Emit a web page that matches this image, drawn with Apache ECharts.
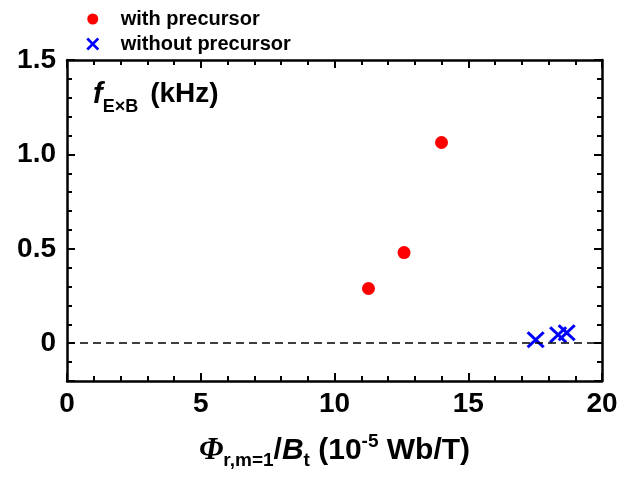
<!DOCTYPE html>
<html>
<head>
<meta charset="utf-8">
<script src="https://cdn.jsdelivr.net/npm/echarts@6/dist/echarts.min.js"></script>
<style>
  html, body { margin: 0; padding: 0; background: #fff; }
  #chart { width: 629px; height: 477px; }
</style>
</head>
<body>
<div id="chart"></div>
<script>
// Shots with a precursor
const withName = 'with precursor';
const withX = [11.27, 12.6, 14.0];
const withY = [0.29, 0.48, 1.063];

// Shots without a precursor
const withoutName = 'without precursor';
const withoutX = [17.52, 18.36, 18.68];
const withoutY = [0.018, 0.045, 0.056];

// Axis tick labels
const xTickValues = [0, 5, 10, 15, 20];
const yTickValues = [0, 0.5, 1.0, 1.5];
const yTickLabels = ['0', '0.5', '1.0', '1.5'];

const FONT = '"Liberation Sans", Arial, sans-serif';
const SERIF = '"Liberation Serif", "Times New Roman", serif';
const crossPath = 'path://M0,0L10,10M10,0L0,10';

const chart = echarts.init(document.getElementById('chart'), null, { renderer: 'canvas' });

const zip = (xs, ys) => xs.map((x, i) => [x, ys[i]]);

const axisLineStyle = { show: true, onZero: false, lineStyle: { color: '#000', width: 2.5 } };
const tickStyle = { show: true, inside: true, length: 8, lineStyle: { color: '#000', width: 2 } };
const minorStyle = { show: true, splitNumber: 5, length: 5, lineStyle: { color: '#000', width: 2 } };
const labelFont = { color: '#000', fontSize: 28, fontWeight: 'bold', fontFamily: FONT };

const option = {
  animation: false,
  backgroundColor: '#fff',
  grid: { left: 67, right: 27, top: 60, bottom: 96 },
  title: {
    text: '{f|f}{sub|E\u00d7B}{m|(kHz)}',
    left: 93,
    top: 73,
    padding: 0,
    textStyle: {
      rich: {
        f: { fontSize: 29, fontWeight: 'bold', fontStyle: 'italic', fontFamily: FONT, color: '#000', lineHeight: 43 },
        sub: { fontSize: 18, fontWeight: 'bold', fontFamily: FONT, color: '#000', lineHeight: 12, verticalAlign: 'bottom' },
        m: { fontSize: 28, fontWeight: 'bold', fontFamily: FONT, color: '#000', lineHeight: 43, padding: [0, 0, 0, 12] }
      }
    }
  },
  legend: {
    orient: 'vertical',
    left: 81,
    top: 4,
    itemWidth: 46,
    itemHeight: 11,
    itemGap: 5,
    textStyle: { color: '#000', fontSize: 20, fontWeight: 'bold', fontFamily: FONT },
    data: [
      { name: withName, icon: 'circle' },
      { name: withoutName, icon: crossPath, itemStyle: { color: '#0000ff', borderColor: '#0000ff', borderWidth: 2.5 } }
    ]
  },
  xAxis: [
    {
      type: 'value', position: 'bottom', min: 0, max: 20, interval: 5,
      axisLine: axisLineStyle,
      axisTick: tickStyle,
      minorTick: minorStyle,
      splitLine: { show: false },
      axisLabel: Object.assign({ margin: 9, customValues: xTickValues, formatter: v => String(v) }, labelFont),
      name: '{phi|\u03a6}{sub|r,m=1}{m|/}{bi|B}{sub|t}{m| (10}{sup|-5}{m| Wb/T)}',
      nameLocation: 'middle',
      nameGap: 51,
      nameTextStyle: {
        rich: {
          phi: { fontSize: 31, fontWeight: 'bold', fontStyle: 'italic', fontFamily: SERIF, color: '#000', lineHeight: 38 },
          bi: { fontSize: 30, fontWeight: 'bold', fontStyle: 'italic', fontFamily: FONT, color: '#000', lineHeight: 38 },
          m: { fontSize: 30, fontWeight: 'bold', fontFamily: FONT, color: '#000', lineHeight: 38 },
          sub: { fontSize: 19, fontWeight: 'bold', fontFamily: FONT, color: '#000', lineHeight: 14, verticalAlign: 'bottom' },
          sup: { fontSize: 19, fontWeight: 'bold', fontFamily: FONT, color: '#000', lineHeight: 28, verticalAlign: 'top' }
        }
      }
    },
    {
      type: 'value', position: 'top', min: 0, max: 20, interval: 5,
      axisLine: axisLineStyle,
      axisTick: tickStyle,
      minorTick: minorStyle,
      splitLine: { show: false },
      axisLabel: { show: false }
    }
  ],
  yAxis: [
    {
      type: 'value', position: 'left', min: -0.2, max: 1.5, splitNumber: 3,
      axisLine: axisLineStyle,
      axisTick: tickStyle,
      minorTick: minorStyle,
      splitLine: { show: false },
      axisLabel: Object.assign({
        margin: 11,
        customValues: yTickValues,
        formatter: v => {
          const i = yTickValues.findIndex(t => Math.abs(t - v) < 1e-9);
          return i >= 0 ? yTickLabels[i] : '';
        }
      }, labelFont)
    },
    {
      type: 'value', position: 'right', min: -0.2, max: 1.5, splitNumber: 3,
      axisLine: axisLineStyle,
      axisTick: tickStyle,
      minorTick: minorStyle,
      splitLine: { show: false },
      axisLabel: { show: false }
    }
  ],
  series: [
    {
      name: withName,
      type: 'scatter',
      xAxisIndex: 0, yAxisIndex: 0,
      symbol: 'circle',
      symbolSize: 13,
      itemStyle: { color: '#ff0000', opacity: 1 },
      data: zip(withX, withY),
      markLine: {
        silent: true,
        symbol: ['none', 'none'],
        label: { show: false },
        lineStyle: { color: '#000', width: 1.5, type: [8, 5] },
        emphasis: { disabled: true },
        data: [{ yAxis: 0 }]
      },
      z: 3
    },
    {
      name: withoutName,
      type: 'scatter',
      xAxisIndex: 0, yAxisIndex: 0,
      symbol: crossPath,
      symbolSize: [16, 15],
      itemStyle: { color: '#0000ff', borderColor: '#0000ff', borderWidth: 3, opacity: 1 },
      data: zip(withoutX, withoutY),
      z: 4
    }
  ]
};

chart.setOption(option);
</script>
</body>
</html>
